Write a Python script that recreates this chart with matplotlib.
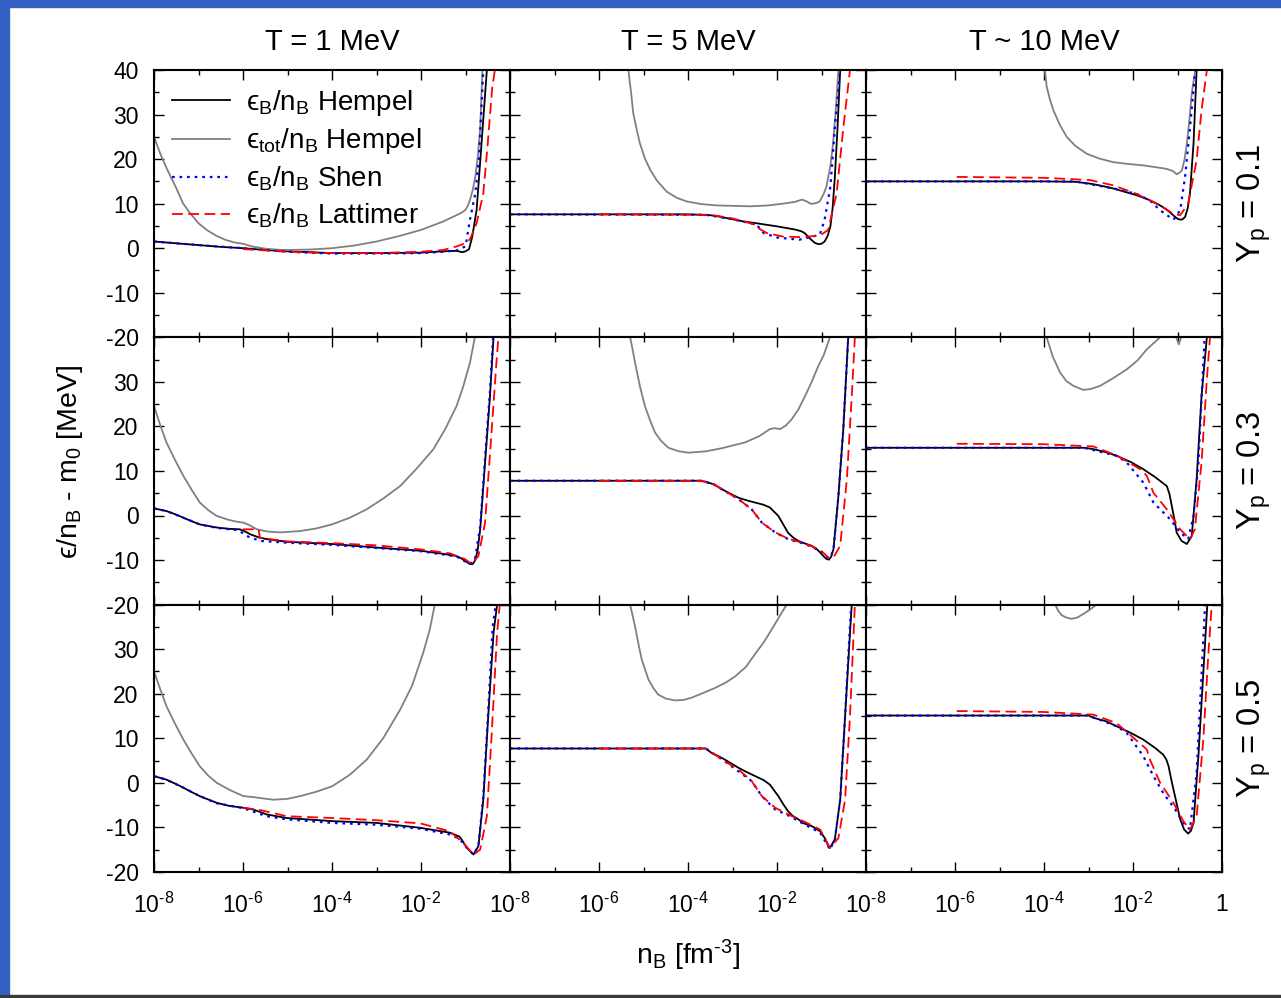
import numpy as np
import matplotlib
matplotlib.use("Agg")
import matplotlib.pyplot as plt
from matplotlib.patches import Rectangle
from matplotlib.ticker import FixedLocator, FixedFormatter

plt.rcParams["font.family"] = ["Liberation Sans", "DejaVu Sans"]
plt.rcParams["mathtext.fontset"] = "custom"
plt.rcParams["mathtext.rm"] = "Liberation Sans"
plt.rcParams["mathtext.it"] = "Liberation Sans:italic"
plt.rcParams["mathtext.bf"] = "Liberation Sans:bold"
plt.rcParams["axes.unicode_minus"] = False

# energy per baryon vs log10(n_B / fm^-3); columns T = 1, 5, ~10 MeV, rows Yp = 0.1, 0.3, 0.5
temps = ["T = 1 MeV", "T = 5 MeV", "T ~ 10 MeV"]
yps = ["0.1", "0.3", "0.5"]

# ---- Yp = 0.1 ----
t1_y01_hemp = ([-8, -7.5, -7, -6.5, -6, -5.5, -5, -4, -3, -2, -1.5, -1.2, -1.07, -1.0, -0.92, -0.85, -0.75, -0.64, -0.52, -0.45],
               [1.5, 1.1, 0.7, 0.3, 0.0, -0.4, -0.7, -1.1, -1.1, -1.0, -0.7, -0.6, -0.9, -0.7, -0.2, 2.5, 8.6, 23.5, 40, 50])
t1_y01_tot = ([-8, -7.85, -7.7, -7.5, -7.35, -7.2, -7, -6.8, -6.6, -6.4, -6.2, -6, -5.8, -5.5, -5.2, -5, -4.5, -4, -3.5, -3, -2.5, -2,
               -1.5, -1.1, -1.0, -0.95, -0.9, -0.84, -0.78, -0.72, -0.67, -0.62, -0.58],
              [25, 21, 17.6, 13.5, 10.1, 8.0, 5.6, 4.0, 2.8, 1.9, 1.3, 1.0, 0.4, -0.1, -0.35, -0.4, -0.3, 0.0, 0.6, 1.5, 2.7, 4.1,
               6.0, 7.9, 8.6, 9.5, 10.8, 13, 16, 21, 27, 40, 50])
t1_y01_shen = ([-8, -7, -6, -5, -4, -3, -2, -1.5, -1.2, -1.0, -0.9, -0.78, -0.7, -0.6, -0.55],
               [1.5, 0.7, 0.0, -0.8, -1.2, -1.2, -1.1, -0.8, -0.5, 0.4, 6.4, 12.3, 19.8, 40, 50])
t1_y01_latt = ([-6, -5, -4, -3, -2, -1.5, -1.2, -1.0, -0.9, -0.75, -0.6, -0.5, -0.4, -0.34, -0.3],
               [-0.2, -0.8, -1.1, -1.1, -0.8, -0.4, 0.4, 1.1, 2.0, 5.6, 12.3, 23.5, 36, 40, 48])

t5_y01_hemp = ([-8, -6, -4, -3.7, -3.5, -3.35, -3.2, -3, -2.75, -2.46, -2, -1.6, -1.45, -1.38, -1.3, -1.23, -1.15, -1.07, -1.0,
                -0.93, -0.86, -0.8, -0.75, -0.7, -0.64, -0.58, -0.52],
               [7.6, 7.6, 7.6, 7.5, 7.4, 7.2, 6.9, 6.5, 6.0, 5.6, 4.9, 4.2, 3.8, 3.4, 2.6, 1.9, 1.2, 0.9, 1.0,
                1.5, 2.8, 4.9, 9, 16, 27, 40, 50])
t5_y01_tot = ([-5.4, -5.34, -5.28, -5.23, -5.15, -5.08, -4.97, -4.85, -4.7, -4.48, -4.25, -4.03, -3.7, -3.35, -2.6, -2.2, -1.86,
               -1.6, -1.44, -1.35, -1.25, -1.18, -1.1, -1.04, -0.95, -0.89, -0.8, -0.74, -0.68, -0.62, -0.58],
              [45, 40, 35, 30.3, 26.5, 23.5, 20.2, 17.6, 15.2, 12.7, 11.3, 10.5, 9.9, 9.6, 9.4, 9.6, 10.0,
               10.4, 10.9, 10.6, 10.0, 10.0, 10.2, 10.5, 12.2, 13.8, 18.5, 23.5, 31, 40, 50])
t5_y01_shen = ([-8, -3.6, -3, -2.46, -2.3, -2, -1.5, -1.04, -0.93, -0.8, -0.7, -0.58, -0.52],
               [7.6, 7.5, 6.5, 5.3, 3.4, 2.4, 1.9, 3.0, 6.4, 13.8, 27, 40, 50])
t5_y01_latt = ([-6, -3.5, -3, -2.46, -2.42, -2.23, -1.86, -1.5, -1.04, -0.85, -0.66, -0.51, -0.36, -0.3],
               [7.6, 7.5, 6.7, 5.2, 4.5, 3.4, 2.6, 2.5, 2.8, 4.1, 12.3, 27, 40, 50])

t10_y01_hemp = ([-8, -4, -3.3, -2.97, -2.7, -2.44, -2.2, -1.92, -1.65, -1.39, -1.25, -1.13, -1.05, -0.98, -0.9, -0.83, -0.77, -0.72, -0.64, -0.57, -0.52],
                [15.0, 15.0, 14.9, 14.5, 14.0, 13.4, 12.7, 11.9, 10.9, 9.6, 8.7, 7.7, 7.0, 6.5, 6.4, 7.0, 9.0, 12.3, 23.5, 40, 50])
t10_y01_tot = ([-4.02, -3.98, -3.94, -3.87, -3.79, -3.65, -3.49, -3.3, -3.04, -2.75, -2.44, -2.1, -1.77, -1.5, -1.24, -1.1, -1.02,
                -0.96, -0.9, -0.84, -0.79, -0.73, -0.68, -0.6, -0.55],
               [45, 40, 36.3, 33.5, 31, 27.8, 25, 23, 21.2, 20.1, 19.3, 18.9, 18.6, 18.2, 17.8, 17.3, 16.6,
                16.9, 17.5, 20, 23.5, 29, 34.8, 40, 50])
t10_y01_shen = ([-8, -3.3, -2.44, -1.92, -1.62, -1.39, -1.09, -0.94, -0.83, -0.72, -0.6, -0.55],
                [15.0, 15.0, 13.4, 12.2, 10.7, 8.5, 6.4, 8.5, 16, 27, 40, 50])
t10_y01_latt = ([-5.96, -4.0, -2.97, -2.44, -1.92, -1.39, -1.09, -0.94, -0.76, -0.57, -0.46, -0.34, -0.3],
                [16.0, 15.8, 15.3, 14.1, 12.2, 9.6, 7.7, 7.4, 10, 19.8, 31, 40, 48])

# ---- Yp = 0.3 ----
t1_y03_hemp = ([-8, -7.72, -7.5, -7.34, -7.15, -6.97, -6.59, -6.3, -6.07, -5.95, -5.84, -5.65, -5.47, -5.02, -4, -3, -2.02, -1.5,
                -1.2, -1.1, -1.01, -0.9, -0.84, -0.79, -0.73, -0.67, -0.56, -0.45, -0.37, -0.33],
               [1.6, 1.0, 0.2, -0.5, -1.3, -2.0, -2.7, -3.0, -3.1, -3.6, -4.2, -4.9, -5.3, -5.9, -6.4, -7.2, -7.9, -8.6,
                -9.1, -9.6, -10.2, -10.9, -10.9, -10.2, -8.0, -3.1, 11.9, 26.8, 40, 50])
t1_y03_tot = ([-8, -7.86, -7.72, -7.53, -7.34, -7.15, -6.97, -6.78, -6.59, -6.35, -6.14, -5.99, -5.85, -5.69, -5.45, -5.17, -4.72,
               -4.35, -4.0, -3.6, -3.22, -2.85, -2.47, -2.1, -1.72, -1.45, -1.2, -1.05, -0.9, -0.79, -0.7],
              [24.6, 20.3, 16.4, 12.5, 8.9, 5.7, 2.9, 1.2, -0.1, -0.9, -1.4, -1.6, -2.2, -3.1, -3.6, -3.8, -3.5,
               -2.9, -2.0, -0.5, 1.4, 3.8, 6.6, 10.5, 14.9, 19.5, 24.6, 29, 34.3, 40, 50])
t1_y03_shen = ([-8, -7.72, -7.34, -6.97, -6.59, -6.1, -5.92, -5.62, -5.02, -4, -3, -2.02, -1.2, -1.01, -0.9, -0.79, -0.67, -0.56, -0.45, -0.38, -0.34],
               [1.6, 1.0, -0.5, -2.0, -2.8, -3.3, -4.6, -5.7, -6.1, -6.6, -7.3, -8.0, -9.2, -10.3, -10.9, -10.0, -2.5, 13, 28, 40, 50])
t1_y03_latt = ([-6, -5.65, -5.62, -5.02, -4, -3, -2.02, -1.35, -1.01, -0.86, -0.71, -0.56, -0.41, -0.3, -0.26, -0.22],
               [-3.1, -3.1, -5.0, -5.8, -6.2, -6.7, -7.6, -8.5, -9.8, -10.9, -9.1, -1.6, 19.4, 35, 40, 48])

t5_y03_hemp = ([-8, -3.77, -3.6, -3.4, -3.24, -3.05, -2.87, -2.68, -2.49, -2.3, -2.16, -2.07, -1.97, -1.86, -1.75, -1.63, -1.52,
                -1.37, -1.22, -1.1, -1.03, -0.95, -0.88, -0.83, -0.78, -0.73, -0.62, -0.51, -0.4, -0.35],
               [7.8, 7.8, 7.6, 6.9, 5.9, 4.9, 4.0, 3.4, 2.9, 2.4, 1.8, 0.9, -0.1, -2.0, -3.9, -5.0, -5.7,
                -6.3, -6.8, -7.6, -8.3, -9.2, -9.8, -9.9, -9.2, -7.5, 4.4, 19.4, 40, 50])
t5_y03_tot = ([-5.35, -5.3, -5.24, -5.19, -5.08, -4.97, -4.85, -4.74, -4.6, -4.44, -4.2, -3.99, -3.6, -3.24, -2.72, -2.4, -2.16,
               -2.05, -1.93, -1.8, -1.67, -1.52, -1.37, -1.22, -1.07, -0.95, -0.81, -0.75],
              [45, 40, 37, 34.3, 29, 24.6, 21.3, 18.6, 16.7, 15.2, 14.4, 14.1, 14.4, 15.1, 16.4, 17.8, 19.4,
               19.6, 19.4, 20.2, 21.6, 23.8, 26.8, 30, 33.6, 36, 40, 45])
t5_y03_shen = ([-8, -3.7, -3.4, -3.24, -2.87, -2.57, -2.34, -2.04, -1.75, -1.37, -1.03, -0.88, -0.8, -0.73, -0.62, -0.51, -0.4, -0.35],
               [7.8, 7.8, 6.9, 5.9, 3.7, 1.4, -1.6, -3.8, -5.3, -6.4, -7.9, -9.4, -9.4, -7.5, 4.4, 19.4, 40, 50])
t5_y03_latt = ([-6, -3.7, -3.4, -3.24, -2.87, -2.57, -2.34, -2.04, -1.75, -1.37, -1.03, -0.85, -0.73, -0.58, -0.43, -0.32, -0.25, -0.2],
               [7.8, 7.8, 6.9, 5.9, 3.7, 1.4, -1.6, -3.8, -5.2, -6.3, -7.7, -9.4, -9.4, -6.8, 8.1, 26.8, 40, 50])

t10_y03_hemp = ([-8, -3.1, -2.89, -2.6, -2.37, -2.05, -1.77, -1.5, -1.24, -1.18, -1.13, -1.07, -1.02, -0.91, -0.79, -0.68, -0.57, -0.46, -0.34, -0.3],
                [15.2, 15.2, 14.9, 14.2, 13.4, 12.0, 10.4, 8.6, 6.6, 4.8, 2.2, -0.8, -3.8, -5.7, -6.4, -4.6, 8.1, 26.8, 40, 50])
t10_y03_tot = ([-3.98, -3.94, -3.8, -3.64, -3.5, -3.34, -3.12, -2.95, -2.74, -2.45, -2.14, -1.9, -1.69, -1.5, -1.39, -1.2,
                -1.05, -0.97, -0.92, -0.85],
               [45, 40, 35.6, 32.1, 30.2, 29.1, 28.2, 28.4, 29.1, 30.8, 32.8, 34.8, 37.3, 39.0, 40, 44,
                40.5, 38.4, 40, 46])
t10_y03_shen = ([-8, -3.1, -2.37, -2.14, -1.77, -1.54, -1.17, -0.94, -0.76, -0.64, -0.53, -0.42, -0.39, -0.35],
                [15.2, 15.2, 13.4, 11.9, 7.4, 2.9, -0.8, -3.8, -5.3, -0.1, 11.9, 34.3, 40, 50])
t10_y03_latt = ([-5.96, -4.01, -2.89, -2.37, -1.84, -1.69, -1.54, -1.24, -0.94, -0.72, -0.61, -0.46, -0.34, -0.27, -0.23],
                [16.1, 16.0, 15.5, 13.5, 10.4, 8.9, 5.1, 1.4, -3.1, -5.3, -3.1, 11.9, 30.6, 40, 48])

# ---- Yp = 0.5 ----
t1_y05_hemp = ([-8, -7.72, -7.5, -7.34, -7.15, -6.97, -6.59, -6.3, -5.99, -5.77, -5.6, -5.47, -5.02, -4, -3, -2.02, -1.35, -1.13,
                -1.05, -0.97, -0.82, -0.71, -0.6, -0.49, -0.37, -0.29, -0.25],
               [1.5, 0.7, -0.3, -1.1, -2.1, -3.0, -4.5, -5.2, -5.6, -6.0, -6.6, -7.1, -7.9, -8.6, -9.0, -10.1, -11.2, -12.1,
                -13.3, -14.6, -16.1, -14.2, -3.8, 14.9, 33.6, 40, 50])
t1_y05_tot = ([-8, -7.86, -7.72, -7.53, -7.34, -7.15, -6.97, -6.78, -6.59, -6.3, -5.99, -5.77, -5.55, -5.32, -5.0, -4.72, -4.35,
               -4.0, -3.6, -3.22, -2.85, -2.47, -2.2, -1.95, -1.8, -1.69, -1.6],
              [25, 21, 17.2, 13.3, 9.7, 6.5, 3.7, 1.6, 0.0, -1.6, -3.0, -3.2, -3.5, -3.8, -3.6, -3.0, -2.0,
               -0.8, 1.8, 5.2, 10.0, 16.4, 21.8, 29.2, 34.5, 40, 46])
t1_y05_shen = ([-8, -7.72, -7.34, -6.97, -6.59, -5.99, -5.47, -5.02, -4, -3, -2.02, -1.35, -1.13, -0.97, -0.82, -0.71, -0.6, -0.49, -0.39, -0.32, -0.28],
               [1.5, 0.7, -1.1, -3.0, -4.6, -5.7, -7.5, -8.2, -9.0, -9.4, -10.3, -11.6, -12.6, -14.6, -16.1, -14.2, -3.0, 16, 35, 40, 50])
t1_y05_latt = ([-6, -5.62, -5.02, -4, -3, -2.02, -1.35, -1.05, -0.82, -0.67, -0.52, -0.41, -0.29, -0.23, -0.2],
               [-5.6, -6.1, -7.5, -7.9, -8.4, -9.1, -10.9, -13.5, -16.1, -15, -7.5, 11.2, 33.6, 40, 48])

t5_y05_hemp = ([-8, -3.6, -3.47, -3.3, -3.17, -2.87, -2.7, -2.49, -2.3, -2.16, -1.97, -1.86, -1.75, -1.65, -1.52, -1.4, -1.22,
                -1.03, -0.97, -0.92, -0.86, -0.81, -0.7, -0.58, -0.47, -0.36, -0.32, -0.28],
               [7.7, 7.7, 6.7, 5.9, 5.2, 3.4, 2.5, 1.5, 0.6, -0.4, -3.0, -4.8, -6.4, -7.4, -8.2, -9.1, -9.7,
                -10.9, -11.8, -12.5, -13.9, -14.6, -12.7, -3.8, 14.9, 33.6, 40, 50])
t5_y05_tot = ([-5.35, -5.3, -5.19, -5.1, -5.04, -4.89, -4.78, -4.67, -4.5, -4.29, -4.1, -3.92, -3.65, -3.39, -3.15, -2.94, -2.7,
               -2.5, -2.42, -2.3, -2.12, -1.9, -1.78, -1.7],
              [45, 40, 35.1, 30.5, 27.7, 23.2, 21.3, 19.8, 18.9, 18.5, 18.6, 19.1, 20.2, 21.3, 22.5, 23.9, 26,
               28.8, 29.9, 31.5, 34.4, 38.1, 40, 44])
t5_y05_shen = ([-8, -3.6, -3.17, -2.87, -2.57, -2.34, -2.04, -1.75, -1.37, -1.03, -0.81, -0.7, -0.58, -0.47, -0.37, -0.33, -0.29],
               [7.7, 7.7, 4.8, 2.6, 0.4, -3.0, -6.0, -7.3, -9.4, -11.2, -15, -12.7, -3.8, 14.9, 33.6, 40, 50])
t5_y05_latt = ([-6, -3.6, -3.17, -2.87, -2.57, -2.34, -2.04, -1.75, -1.37, -1.03, -0.81, -0.62, -0.47, -0.36, -0.25, -0.2],
               [7.7, 7.7, 4.8, 3.0, 0.4, -3.0, -5.6, -7.1, -8.8, -10.5, -14.6, -12.4, -3.8, 14.9, 40, 50])

t10_y05_hemp = ([-8, -3.0, -2.89, -2.6, -2.37, -2.05, -1.77, -1.5, -1.32, -1.25, -1.2, -1.15, -1.09, -1.0, -0.94, -0.85, -0.76, -0.7, -0.64, -0.53, -0.42, -0.33, -0.29],
                [15.1, 15.1, 14.6, 13.8, 12.7, 11.2, 9.7, 7.8, 6.3, 5.2, 3.7, 1.2, -1.5, -5.5, -8.2, -10.5, -11.4, -10.8, -9.0, 6.0, 24.7, 40, 50])
t10_y05_tot = ([-3.8, -3.75, -3.68, -3.6, -3.5, -3.38, -3.25, -3.1, -2.95, -2.82, -2.75],
               [44, 40, 38.6, 37.6, 37.1, 36.8, 37.1, 38, 39, 40, 43])
t10_y05_shen = ([-8, -3.0, -2.37, -2.14, -1.77, -1.54, -1.32, -1.05, -0.87, -0.72, -0.57, -0.42, -0.38, -0.34],
                [15.1, 15.1, 12.7, 11.2, 6.0, 1.5, -2.3, -6.0, -9.0, -10.5, 2.2, 32.1, 40, 50])
t10_y05_latt = ([-5.96, -4.01, -2.89, -2.37, -1.69, -1.62, -1.39, -1.09, -0.87, -0.72, -0.57, -0.42, -0.31, -0.23, -0.2],
                [16.1, 15.9, 15.3, 13.4, 7.5, 5.2, 0.0, -4.5, -8.6, -10.5, -7.5, 9.7, 28.4, 40, 48])

panels = [
    [(t1_y01_hemp, t1_y01_tot, t1_y01_shen, t1_y01_latt),
     (t5_y01_hemp, t5_y01_tot, t5_y01_shen, t5_y01_latt),
     (t10_y01_hemp, t10_y01_tot, t10_y01_shen, t10_y01_latt)],
    [(t1_y03_hemp, t1_y03_tot, t1_y03_shen, t1_y03_latt),
     (t5_y03_hemp, t5_y03_tot, t5_y03_shen, t5_y03_latt),
     (t10_y03_hemp, t10_y03_tot, t10_y03_shen, t10_y03_latt)],
    [(t1_y05_hemp, t1_y05_tot, t1_y05_shen, t1_y05_latt),
     (t5_y05_hemp, t5_y05_tot, t5_y05_shen, t5_y05_latt),
     (t10_y05_hemp, t10_y05_tot, t10_y05_shen, t10_y05_latt)],
]

# lunate epsilon comes from DejaVu when Liberation lacks it
labels = ["\u03f5$_{\\rm B}$/n$_{\\rm B}$ Hempel",
          "\u03f5$_{\\rm tot}$/n$_{\\rm B}$ Hempel",
          "\u03f5$_{\\rm B}$/n$_{\\rm B}$ Shen",
          "\u03f5$_{\\rm B}$/n$_{\\rm B}$ Lattimer"]
styles = [dict(color="black", lw=1.3, ls="-"),
          dict(color="#808080", lw=1.3, ls="-"),
          dict(color="#0000ff", lw=1.6, ls=(0, (1.2, 2.2))),
          dict(color="#ff0000", lw=1.3, ls=(0, (6, 3)))]

fig = plt.figure(figsize=(12.81, 9.98), dpi=100)
W, H = 1281, 998
x0, pw = 154, 356
y0, ph = 70, 267.3

for r in range(3):
    for c in range(3):
        ax = fig.add_axes([(x0 + c * pw) / W, 1 - (y0 + (r + 1) * ph) / H, pw / W, ph / H])
        for curve, st, lab in zip(panels[r][c], styles, labels):
            lx, vy = curve
            ax.plot(10.0 ** np.array(lx), vy, label=lab, **st)
        ax.set_xscale("log")
        ax.set_xlim(1e-8, 1)
        ax.set_ylim(-20, 40)

        ax.xaxis.set_major_locator(FixedLocator([1e-8, 1e-6, 1e-4, 1e-2, 1]))
        ax.xaxis.set_minor_locator(FixedLocator([1e-7, 1e-5, 1e-3, 1e-1]))
        ax.xaxis.set_minor_formatter(FixedFormatter([]))
        if r == 2:
            xl = [r"10$^{\text{-8}}$", r"10$^{\text{-6}}$", r"10$^{\text{-4}}$", r"10$^{\text{-2}}$",
                  "1" if c == 2 else ""]
            ax.xaxis.set_major_formatter(FixedFormatter(xl))
        else:
            ax.xaxis.set_major_formatter(FixedFormatter([""] * 5))

        ax.yaxis.set_major_locator(FixedLocator([-20, -10, 0, 10, 20, 30, 40]))
        ax.yaxis.set_minor_locator(FixedLocator([-15, -5, 5, 15, 25, 35]))
        if c == 0:
            yl = ["-20", "-10", "0", "10", "20", "30", "40" if r == 0 else ""]
            ax.yaxis.set_major_formatter(FixedFormatter(yl))
        else:
            ax.yaxis.set_major_formatter(FixedFormatter([""] * 7))

        ax.tick_params(which="both", direction="in", top=True, right=True,
                       width=1.0, labelsize=16.5)
        ax.tick_params(which="major", length=7.5)
        ax.tick_params(which="minor", length=3.8)
        ax.tick_params(axis="y", pad=11)
        ax.tick_params(axis="x", pad=15)
        for sp in ax.spines.values():
            sp.set_linewidth(1.5)

        if r == 0 and c == 0:
            ax.legend(loc="upper left", bbox_to_anchor=(0.0, 1.0), frameon=False,
                      fontsize=20, handlelength=2.1, handletextpad=0.55,
                      labelspacing=0.3, borderaxespad=0.25)

for c, t in enumerate(temps):
    fig.text((x0 + (c + 0.5) * pw) / W, 1 - 42 / H, t, ha="center", va="center", fontsize=21)
for r, yp in enumerate(yps):
    fig.text(1254 / W, 1 - (y0 + (r + 0.5) * ph) / H, r"Y$_{\rm p}$ = " + yp,
             rotation=90, ha="center", va="center", fontsize=23.5)

fig.text(70 / W, 1 - 462 / H, "\u03f5/n$_{\\rm B}$ - m$_0$ [MeV]",
         rotation=90, ha="center", va="center", fontsize=20.5)
fig.text(688 / W, 1 - 955 / H, r"n$_{\rm B}$ [fm$^{\text{-3}}$]",
         ha="center", va="center", fontsize=20.5)

# slide frame: blue strip left and top, dark rule at the bottom
fig.patches.append(Rectangle((0, 0), 9 / W, 1, transform=fig.transFigure,
                             color="#3461c6", zorder=10))
fig.patches.append(Rectangle((0, 1 - 7 / H), 1, 7 / H, transform=fig.transFigure,
                             color="#3461c6", zorder=10))
fig.patches.append(Rectangle((0, 0), 1, 3 / H, transform=fig.transFigure,
                             color="#3a3a3a", zorder=10))

fig.savefig("out.png", dpi=100)
